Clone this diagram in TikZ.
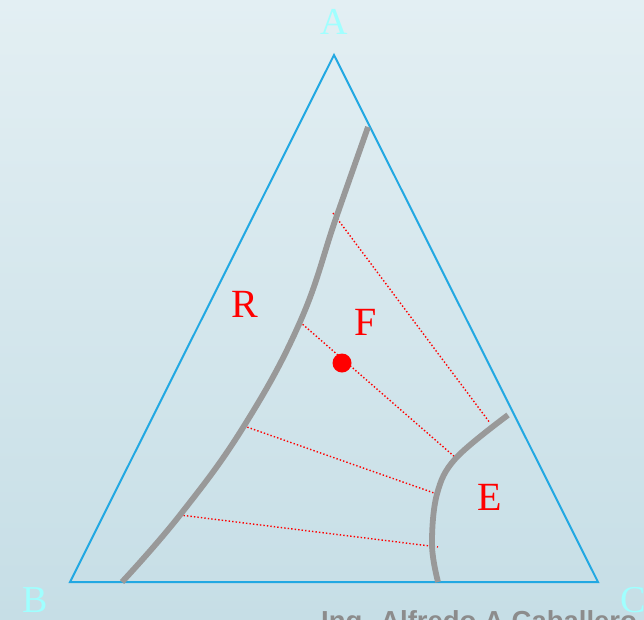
\documentclass[tikz,border=0pt]{standalone}
\usepackage{fontspec}
\setmainfont{Liberation Serif}
\newfontfamily\footfont{Liberation Sans}
\definecolor{bgtop}{HTML}{E3EFF3}
\definecolor{bgbot}{HTML}{C6DEE6}
\definecolor{triblue}{HTML}{22A8E2}
\definecolor{lblcyan}{HTML}{A0FFFF}
\definecolor{curvegray}{HTML}{999999}
\definecolor{foot}{HTML}{8C8C8C}
\tikzset{
  vlabel/.style={text=lblcyan, font=\fontsize{38}{40}\selectfont, inner sep=0pt},
  rlabel/.style={text=red, font=\fontsize{40}{42}\selectfont, inner sep=0pt},
  tri/.style={draw=triblue, line width=2pt, line join=miter},
  phase/.style={draw=curvegray, line width=5.8pt},
  tie/.style={draw=red, line width=1.4pt, dash pattern=on 1.4pt off 2.1pt},
}
\begin{document}
\begin{tikzpicture}[x=1pt,y=-1pt]
\useasboundingbox (0,0) rectangle (644,619);
\clip (0,0) rectangle (644,619);
\shade[top color=bgtop, bottom color=bgbot] (0,0) rectangle (644,619);
% triangle
\coordinate (A) at (334,55);
\coordinate (B) at (70,582);
\coordinate (C) at (598,582);
\draw[tri] (A) -- (B) -- (C) -- cycle;
% tie line ends
\coordinate (r1) at (333,213);
\coordinate (r2) at (300,322);
\coordinate (r3) at (244,426);
\coordinate (r4) at (180,515);
\coordinate (e1) at (490,423);
\coordinate (e2) at (456,458);
\coordinate (e3) at (437,494);
\coordinate (e4) at (438,547);
\draw[tie] (r1) -- (e1);
\draw[tie] (r2) -- (e2);
\draw[tie] (r3) -- (e3);
\draw[tie] (r4) -- (e4);
% phase curves
\draw[phase] plot[smooth, tension=0.7] coordinates {(368,127) (336,218) (300,322) (244,426) (180,515) (122,582)};
\draw[phase] plot[smooth, tension=0.6] coordinates {(508,415) (456,458) (437,494) (432,545) (438,582)};
% feed point
\fill[red] (342,363) circle (9.5);
% labels
\node[vlabel] (la) at (334,22) {A};
\node[vlabel] (lb) at (35,600) {B};
\node[vlabel] (lc) at (633,600) {C};
\node[rlabel] (lr) at (245,304) {R};
\node[rlabel] (lf) at (366,322) {F};
\node[rlabel] (le) at (490,497) {E};
\node[anchor=base west, inner sep=0pt, text=foot, font=\footfont\bfseries\fontsize{27.5}{30}\selectfont] (ft) at (321,630) {Ing. Alfredo A Caballero};
\end{tikzpicture}
\end{document}
